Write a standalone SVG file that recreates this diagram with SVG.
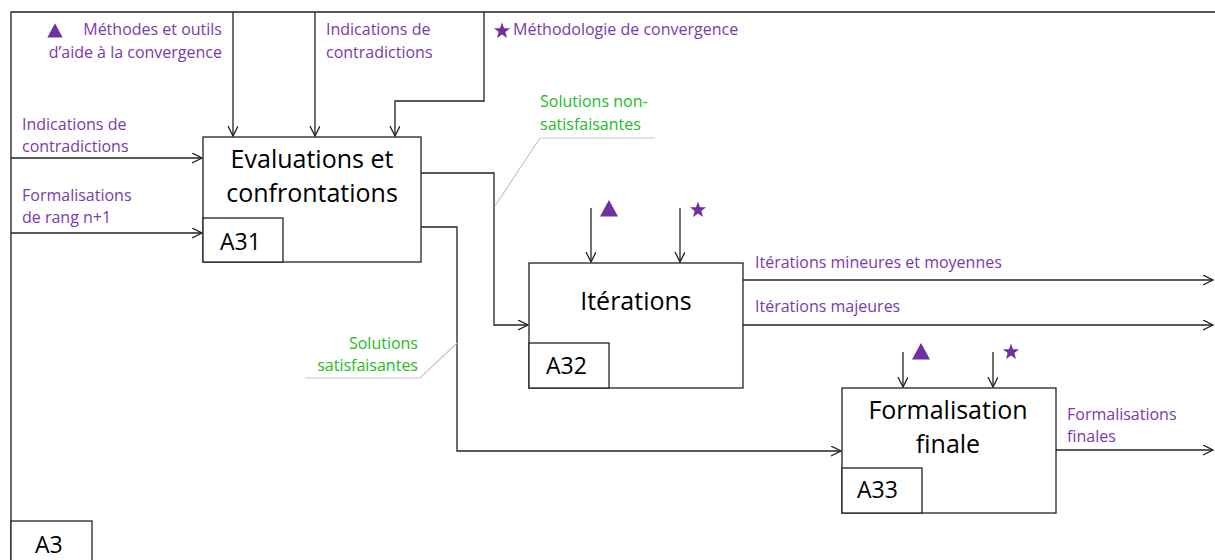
<svg xmlns="http://www.w3.org/2000/svg" width="1215" height="560" viewBox="0 0 1215 560">
<style>
.ln{fill:none;stroke:#222;stroke-width:1.3}
.box{fill:#fff;stroke:#222;stroke-width:1.3}
.lead{fill:none;stroke:#c8c8c8;stroke-width:1.2}
.t{font-family:"Open Sans","Liberation Sans",sans-serif;fill:#000}
.big{font-size:25px}
.id{font-size:23px}
.p{font-family:"Open Sans","Liberation Sans",sans-serif;font-size:16px;fill:#7a3aae}
.g{font-family:"Open Sans","Liberation Sans",sans-serif;font-size:16px;fill:#22bb22}
.sym{fill:#7030a0}
</style>
<defs>
<marker id="arr" markerWidth="12" markerHeight="12" refX="10" refY="5" orient="auto" markerUnits="userSpaceOnUse">
<path d="M0,0 L10,5 L0,10" fill="none" stroke="#222" stroke-width="1.3"/>
</marker>
<polygon id="star" points="0,-8.5 2.06,-2.84 8.08,-2.63 3.34,1.08 5,6.88 0,3.5 -5,6.88 -3.34,1.08 -8.08,-2.63 -2.06,-2.84"/>
<polygon id="tri" points="0,-9 9,7.5 -9,7.5"/>
</defs>

<g id="frame">
<path class="ln" d="M11,560 V12 H1215"/>
<rect class="box" x="11" y="521" width="81" height="45"/>
<text class="t id" x="35" y="553">A3</text>
</g>

<g id="connectors">
<path class="ln" d="M233,12 V136" marker-end="url(#arr)"/>
<path class="ln" d="M315,12 V136" marker-end="url(#arr)"/>
<path class="ln" d="M484,12 V101 H395 V136" marker-end="url(#arr)"/>
<path class="ln" d="M11,158 H202" marker-end="url(#arr)"/>
<path class="ln" d="M11,233 H202" marker-end="url(#arr)"/>
<path class="ln" d="M421,173 H494 V325 H528" marker-end="url(#arr)"/>
<path class="ln" d="M421,227 H457 V451 H841" marker-end="url(#arr)"/>
<path class="ln" d="M591,208 V262" marker-end="url(#arr)"/>
<path class="ln" d="M680,208 V262" marker-end="url(#arr)"/>
<path class="ln" d="M743,280 H1213" marker-end="url(#arr)"/>
<path class="ln" d="M743,325 H1213" marker-end="url(#arr)"/>
<path class="ln" d="M903,352 V387" marker-end="url(#arr)"/>
<path class="ln" d="M993,352 V387" marker-end="url(#arr)"/>
<path class="ln" d="M1056,450 H1213" marker-end="url(#arr)"/>
<path class="lead" d="M495,206 L540,138 H655"/>
<path class="lead" d="M457,343 L420,378 H305"/>
</g>

<g id="labels">
<use href="#tri" class="sym" transform="translate(55,31) scale(0.85)"/>
<text class="p" x="222" y="35" text-anchor="end">Méthodes et outils</text>
<text class="p" x="222" y="58" text-anchor="end">d’aide à la convergence</text>
<text class="p" x="326" y="35">Indications de</text>
<text class="p" x="326" y="58">contradictions</text>
<use href="#star" class="sym" transform="translate(502,31)"/>
<text class="p" x="513" y="35">Méthodologie de convergence</text>
<text class="p" x="22" y="130">Indications de</text>
<text class="p" x="22" y="152">contradictions</text>
<text class="p" x="22" y="201">Formalisations</text>
<text class="p" x="22" y="223">de rang n+1</text>
<text class="g" x="540" y="107">Solutions non-</text>
<text class="g" x="540" y="130">satisfaisantes</text>
<text class="g" x="418" y="349" text-anchor="end">Solutions</text>
<text class="g" x="418" y="371" text-anchor="end">satisfaisantes</text>
<text class="p" x="755" y="268">Itérations mineures et moyennes</text>
<text class="p" x="755" y="312">Itérations majeures</text>
<text class="p" x="1067" y="420">Formalisations</text>
<text class="p" x="1067" y="442">finales</text>
<use href="#tri" class="sym" transform="translate(609,209)"/>
<use href="#star" class="sym" transform="translate(698,210)"/>
<use href="#tri" class="sym" transform="translate(921,352)"/>
<use href="#star" class="sym" transform="translate(1011,352)"/>
</g>

<g id="A31">
<rect class="box" x="203" y="137" width="218" height="125"/>
<rect class="box" x="203" y="218" width="80" height="44"/>
<text class="t big" x="312" y="168" text-anchor="middle">Evaluations et</text>
<text class="t big" x="312" y="202" text-anchor="middle">confrontations</text>
<text class="t id" x="220" y="250">A31</text>
</g>

<g id="A32">
<rect class="box" x="529" y="263" width="214" height="125"/>
<rect class="box" x="529" y="343" width="80" height="45"/>
<text class="t big" x="636" y="310" text-anchor="middle">Itérations</text>
<text class="t id" x="546" y="374">A32</text>
</g>

<g id="A33">
<rect class="box" x="842" y="388" width="214" height="125"/>
<rect class="box" x="842" y="468" width="80" height="45"/>
<text class="t big" x="948" y="419" text-anchor="middle">Formalisation</text>
<text class="t big" x="948" y="453" text-anchor="middle">finale</text>
<text class="t id" x="857" y="498">A33</text>
</g>
</svg>
